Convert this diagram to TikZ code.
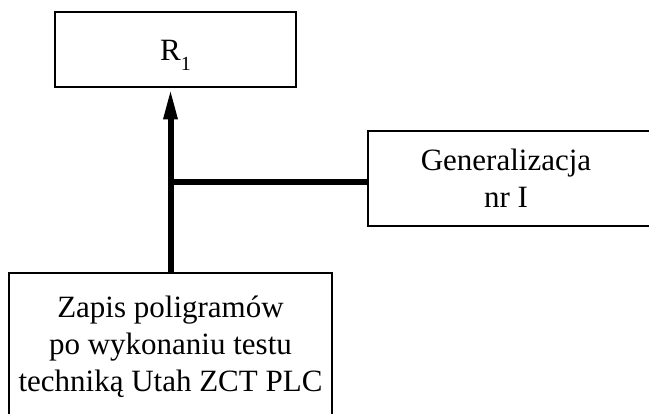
\documentclass[tikz,border=0pt]{standalone}
\usepackage{fontspec}
\setmainfont{Liberation Serif}
\usetikzlibrary{arrows.meta,calc}
\begin{document}
\begin{tikzpicture}[x=1pt,y=-1pt,
  txt/.style={inner sep=0pt, align=center, font=\fontsize{31}{37}\selectfont},
  box/.style={txt, draw, line width=2pt},
  boxline/.style={line width=2pt},
  conn/.style={line width=6pt}]
\useasboundingbox (0,0) rectangle (649,414);
\clip (0,0) rectangle (649,414);
\node[box, minimum width=241pt, minimum height=75pt] (r) at (175.5,50) {R\raisebox{-10pt}[0pt][0pt]{\fontsize{20}{20}\selectfont 1}};
\node[txt, minimum width=276pt, minimum height=95pt] (gen) at (506,178.5) {Generalizacja\\nr I};
\draw[boxline] ($(gen.north east)+(20,0)$) -- (gen.north west) -- (gen.south west) -- ($(gen.south east)+(20,0)$);
\node[box, minimum width=323pt, minimum height=147pt] (bot) at (170.5,346.5) {Zapis poligramów\\po wykonaniu testu\\techniką Utah ZCT PLC};
\coordinate (j) at (170.5,182);
\draw[conn, -{Triangle[length=31pt,width=13pt]}] (bot.north) -- (bot.north |- r.south);
\draw[conn] (j) -- (gen.west |- j);
\end{tikzpicture}
\end{document}
